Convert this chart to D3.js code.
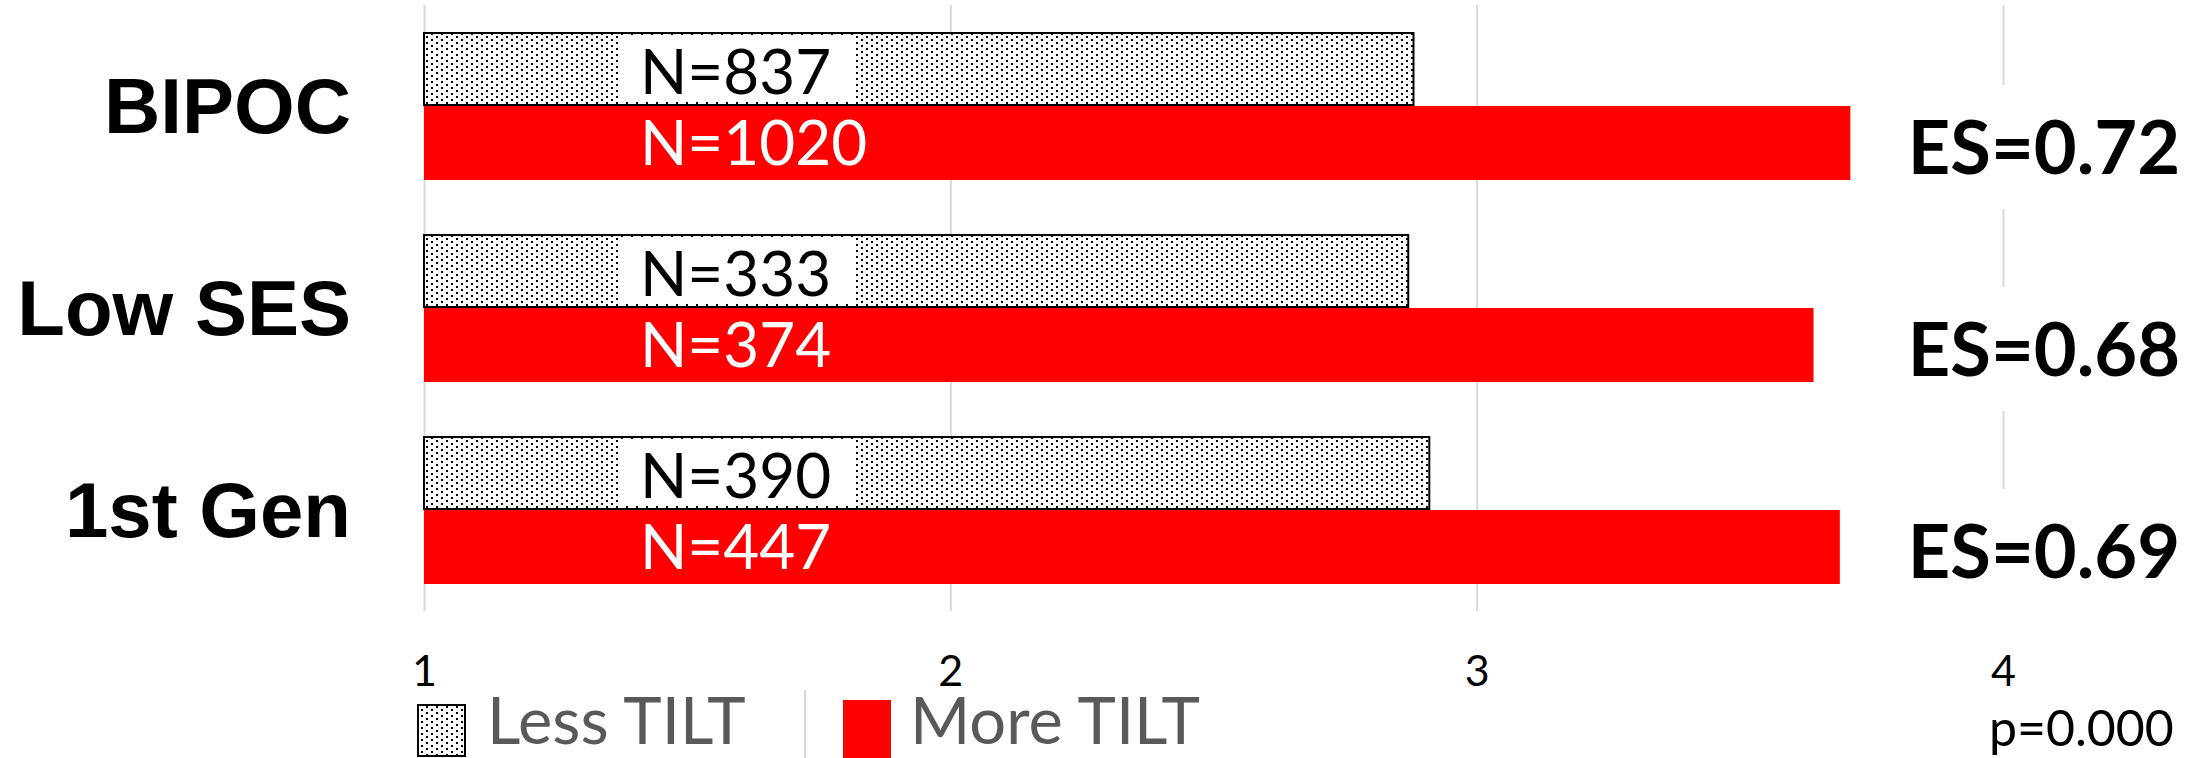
<!DOCTYPE html>
<html>
<head>
<meta charset="utf-8">
<script src="https://cdn.jsdelivr.net/npm/d3@7.9.0/dist/d3.min.js"></script>
<style>
  body { margin: 0; background: #fff; }
  svg { display: block; }
</style>
</head>
<body>
<svg width="2211" height="758"></svg>
<script>
// chart data
const categories = ['BIPOC', 'Low SES', '1st Gen'];
const series = ['Less TILT', 'More TILT'];
const lessTilt = [2.88, 2.87, 2.91];
const moreTilt = [3.71, 3.64, 3.69];
const lessN = [837, 333, 390];
const moreN = [1020, 374, 447];
const effectSizes = ['0.72', '0.68', '0.69'];
const xTicks = [1, 2, 3, 4];
const pLabel = 'p=0.000';

const svg = d3.select('svg');
const calibri = 'Lato, "Open Sans", sans-serif';

let x = d3.scaleLinear().domain([1, 4]).range([424, 2003]);
let y = d3.scaleBand().domain(categories).range([5, 611]).paddingInner(54 / 202).paddingOuter(27 / 202);
let ySub = d3.scaleBand().domain(series).range([0, y.bandwidth()]);

// dotted fill for the "Less TILT" bars
let defs = svg.append('defs');
let pat = defs.append('pattern')
  .attr('id', 'dots')
  .attr('patternUnits', 'userSpaceOnUse')
  .attr('width', 10).attr('height', 6);
pat.append('rect').attr('width', 10).attr('height', 6).attr('fill', '#fff');
pat.append('rect').attr('x', 1).attr('y', 1).attr('width', 2).attr('height', 2).attr('fill', '#000');
pat.append('rect').attr('x', 6).attr('y', 4).attr('width', 2).attr('height', 2).attr('fill', '#000');

// gridlines + tick labels
let axis = svg.append('g')
  .attr('transform', 'translate(0,611)')
  .call(d3.axisBottom(x).tickValues(xTicks).tickSize(-606).tickPadding(44).tickFormat(d3.format('d')));
axis.select('.domain').remove();
axis.selectAll('line').attr('stroke', '#d9d9d9').attr('stroke-width', 2);
axis.selectAll('text')
  .attr('fill', '#000')
  .style('font-family', calibri)
  .style('font-size', '43px');

let rows = categories.map((c, i) => ({
  cat: c,
  less: lessTilt[i],
  more: moreTilt[i],
  nLess: lessN[i],
  nMore: moreN[i],
  es: effectSizes[i]
}));

let groups = svg.selectAll('g.group')
  .data(rows)
  .join('g')
  .attr('class', 'group')
  .attr('transform', (d) => `translate(0,${y(d.cat)})`);

// Less TILT bars
groups.append('rect')
  .attr('x', x(1))
  .attr('y', ySub('Less TILT') + 1)
  .attr('width', (d) => x(d.less) - x(1))
  .attr('height', ySub.bandwidth() - 2)
  .attr('fill', 'url(#dots)')
  .attr('stroke', '#000')
  .attr('stroke-width', 2);

// More TILT bars
groups.append('rect')
  .attr('x', x(1))
  .attr('y', ySub('More TILT'))
  .attr('width', (d) => x(d.more) - x(1))
  .attr('height', ySub.bandwidth())
  .attr('fill', '#ff0000');

// N labels
groups.each(function (d) {
  let g = d3.select(this);
  let lbl = g.append('text')
    .attr('x', 640)
    .attr('y', ySub('Less TILT') + ySub.bandwidth() / 2 + 25)
    .style('font-family', calibri)
    .style('font-size', '62px')
    .attr('fill', '#000')
    .text(`N=${d.nLess}`);
  let bb = lbl.node().getBBox();
  g.insert('rect', 'text')
    .attr('x', bb.x - 22)
    .attr('y', ySub('Less TILT') + 4)
    .attr('width', bb.width + 44)
    .attr('height', ySub.bandwidth() - 8)
    .attr('fill', '#fff');

  g.append('text')
    .attr('x', 640)
    .attr('y', ySub('More TILT') + ySub.bandwidth() / 2 + 22)
    .style('font-family', calibri)
    .style('font-size', '62px')
    .attr('fill', '#fff')
    .text(`N=${d.nMore}`);

  // effect size box on the right
  let cy = ySub('More TILT') + ySub.bandwidth() / 2 + 4;
  g.append('rect')
    .attr('x', 1895)
    .attr('y', cy - 62)
    .attr('width', 300)
    .attr('height', 124)
    .attr('fill', '#fff');
  g.append('text')
    .attr('x', 2044)
    .attr('y', cy + 27)
    .attr('text-anchor', 'middle')
    .style('font-family', calibri)
    .style('font-weight', 'bold')
    .style('font-size', '74px')
    .attr('fill', '#000')
    .text(`ES=${d.es}`);
});

// category labels
svg.selectAll('text.cat')
  .data(categories)
  .join('text')
  .attr('class', 'cat')
  .attr('x', 351)
  .attr('y', (d) => y(d) + y.bandwidth() / 2 + 27)
  .attr('text-anchor', 'end')
  .style('font-family', '"Liberation Sans", Arial, sans-serif')
  .style('font-weight', 'bold')
  .style('font-size', '78px')
  .text((d) => d);

// legend
let legend = svg.append('g');
legend.append('rect')
  .attr('x', 418).attr('y', 705).attr('width', 47).attr('height', 51)
  .attr('fill', 'url(#dots)').attr('stroke', '#000').attr('stroke-width', 2);
legend.append('text')
  .attr('x', 487).attr('y', 744)
  .style('font-family', calibri).style('font-size', '65px')
  .attr('fill', '#595959')
  .text(series[0]);
legend.append('line')
  .attr('x1', 805).attr('x2', 805).attr('y1', 690).attr('y2', 758)
  .attr('stroke', '#d9d9d9').attr('stroke-width', 2);
legend.append('rect')
  .attr('x', 843).attr('y', 700).attr('width', 48).attr('height', 58)
  .attr('fill', '#ff0000');
legend.append('text')
  .attr('x', 910).attr('y', 744)
  .style('font-family', calibri).style('font-size', '65px')
  .attr('fill', '#595959')
  .text(series[1]);

// p value note
svg.append('text')
  .attr('x', 1989).attr('y', 746)
  .style('font-family', calibri).style('font-size', '50px')
  .attr('fill', '#000')
  .text(pLabel);
</script>
</body>
</html>
